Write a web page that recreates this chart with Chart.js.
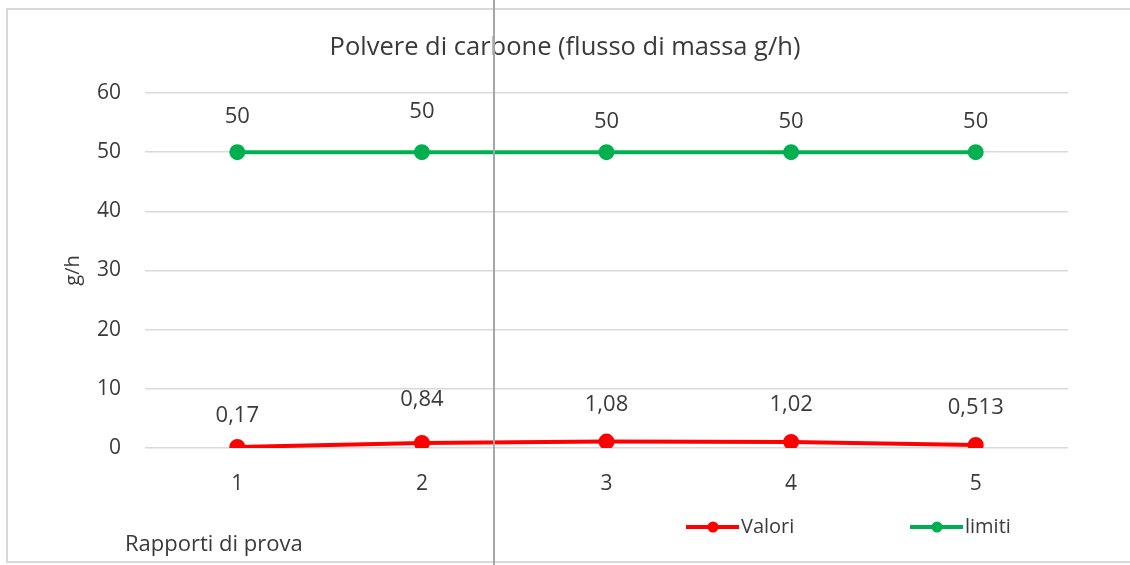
<!DOCTYPE html>
<html>
  <head>
    <title>Polvere di carbone</title>
    <script src="https://cdn.jsdelivr.net/npm/chart.js"></script>
    <style>
      body {
        margin: 0;
        background: #fff;
      }
      .wrap {
        position: relative;
        width: 1130px;
        height: 565px;
      }
      .divider {
        position: absolute;
        left: 493px;
        top: 0;
        width: 2px;
        height: 565px;
        background: #a6a6a6;
      }
    </style>
  </head>
  <body>
    <div class="wrap">
      <canvas id="chart" width="1130" height="565"></canvas>
      <div class="divider"></div>
    </div>

    <script>
      const categories = ["1", "2", "3", "4", "5"];
      const valori = [0.17, 0.84, 1.08, 1.02, 0.513];
      const limiti = [50, 50, 50, 50, 50];
      const valoriLabels = ["0,17", "0,84", "1,08", "1,02", "0,513"];
      const limitiLabels = ["50", "50", "50", "50", "50"];
      const yTicks = [0, 10, 20, 30, 40, 50, 60];

      const FONT = "'Open Sans', 'Noto Sans', sans-serif";
      const TEXT = "#3a3a3a";

      // label lift above each point (Excel had some moved by hand)
      const liftValori = [31, 43, 37, 37, 37];
      const liftLimiti = [35, 40, 30, 30, 30];

      const extras = {
        id: "extras",
        afterDatasetsDraw(chart) {
          const ctx = chart.ctx;
          ctx.save();
          ctx.fillStyle = TEXT;
          ctx.textAlign = "center";
          ctx.textBaseline = "middle";

          // title, centred on the whole picture
          ctx.font = "25.5px " + FONT;
          ctx.fillText("Polvere di carbone (flusso di massa g/h)", 565, 48);

          ctx.font = "22px " + FONT;
          const sets = [
            [0, valoriLabels, liftValori],
            [1, limitiLabels, liftLimiti],
          ];
          sets.forEach(([i, labels, lift]) => {
            chart.getDatasetMeta(i).data.forEach((pt, j) => {
              ctx.fillText(labels[j], pt.x, pt.y - lift[j]);
            });
          });

          // axis caption bottom-left
          ctx.textAlign = "left";
          ctx.font = "22px " + FONT;
          ctx.fillText("Rapporti di prova", 125, 545);

          // legend
          const legendX = [686, 910];
          chart.data.datasets.forEach((ds, i) => {
            const x = legendX[i];
            const y = 527;
            ctx.strokeStyle = ds.borderColor;
            ctx.lineWidth = 4;
            ctx.beginPath();
            ctx.moveTo(x, y);
            ctx.lineTo(x + 53, y);
            ctx.stroke();
            ctx.fillStyle = ds.borderColor;
            ctx.beginPath();
            ctx.arc(x + 27, y, 5.5, 0, Math.PI * 2);
            ctx.fill();
            ctx.fillStyle = TEXT;
            ctx.font = "20px " + FONT;
            ctx.fillText(ds.label, x + 55, y);
          });

          // frame
          ctx.strokeStyle = "#d9d9d9";
          ctx.lineWidth = 2;
          ctx.beginPath();
          ctx.moveTo(1130, 9);
          ctx.lineTo(7, 9);
          ctx.lineTo(7, 562);
          ctx.lineTo(1130, 562);
          ctx.stroke();
          ctx.restore();
        },
      };

      new Chart(document.getElementById("chart"), {
        type: "line",
        data: {
          labels: categories,
          datasets: [
            {
              label: "Valori",
              data: valori,
              borderColor: "#ff0000",
              backgroundColor: "#ff0000",
              borderWidth: 4,
              pointRadius: 6,
              pointHoverRadius: 6,
              tension: 0,
            },
            {
              label: "limiti",
              data: limiti,
              borderColor: "#00b050",
              backgroundColor: "#00b050",
              borderWidth: 4,
              pointRadius: 6,
              pointHoverRadius: 6,
              tension: 0,
            },
          ],
        },
        options: {
          responsive: false,
          animation: false,
          layout: { padding: { left: 0, right: 62, top: 93, bottom: 0 } },
          plugins: {
            legend: { display: false },
            tooltip: { enabled: false },
            title: { display: false },
          },
          scales: {
            x: {
              offset: true,
              grid: { display: false, drawTicks: false },
              border: { display: false },
              ticks: {
                color: TEXT,
                font: { family: FONT, size: 21 },
                padding: 23,
              },
              afterFit(scale) {
                scale.height = 117;
              },
            },
            y: {
              min: 0,
              max: 60,
              afterBuildTicks(scale) {
                scale.ticks = yTicks.map((v) => ({ value: v }));
              },
              grid: { color: "#d9d9d9", lineWidth: 1.5, drawTicks: false },
              border: { display: false },
              ticks: {
                color: TEXT,
                font: { family: FONT, size: 21 },
                padding: 24,
              },
              title: {
                display: true,
                text: "g/h",
                color: TEXT,
                font: { family: FONT, size: 20 },
                padding: { top: 61, bottom: 0 },
              },
              afterFit(scale) {
                scale.width = 145;
              },
            },
          },
        },
        plugins: [extras],
      });
    </script>
  </body>
</html>
